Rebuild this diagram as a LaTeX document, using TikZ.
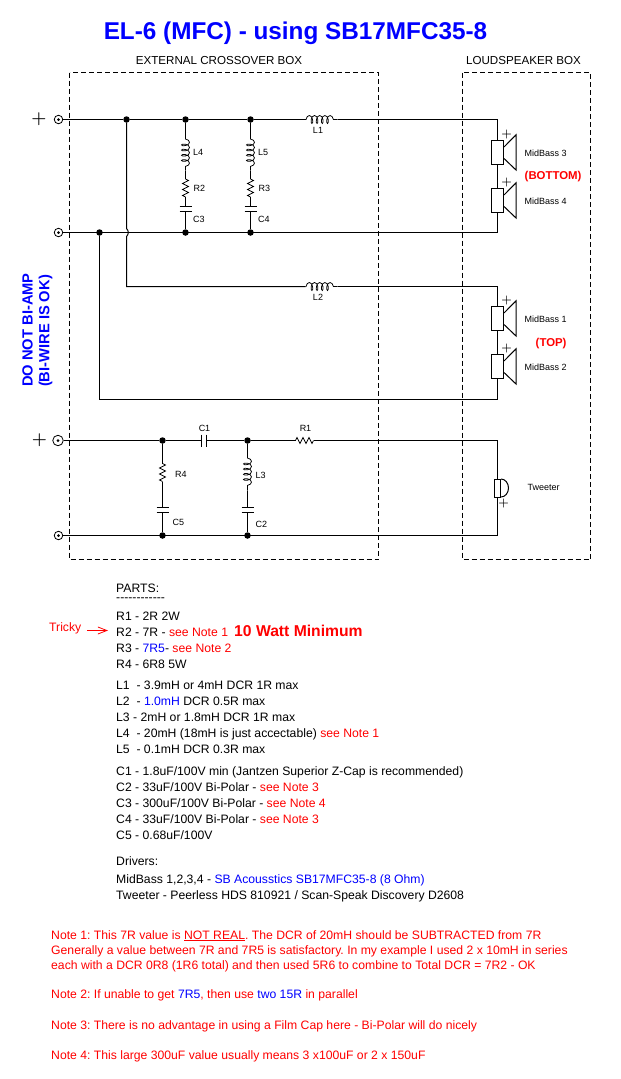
\documentclass[tikz,border=0pt]{standalone}
\usepackage{fontspec}
\setmainfont{Liberation Sans}
\usetikzlibrary{decorations.pathmorphing,arrows.meta}
\definecolor{pureblue}{RGB}{0,0,255}
\definecolor{purered}{RGB}{255,0,0}
\tikzset{
  wire/.style={line width=1pt},
  boxline/.style={line width=1pt,dash pattern=on 5pt off 3pt},
  junction/.style={circle,fill=black,inner sep=0pt,minimum size=6.5pt},
  terminal/.style={circle,draw,line width=0.8pt,inner sep=0pt,minimum size=8.5pt,
    path picture={\fill (path picture bounding box.center) circle (1.5pt);}},
  coilpart/.style={line width=0.75pt,decorate,decoration={coil,aspect=0.5,segment length=5.2pt,amplitude=4pt,pre length=0.5pt,post length=0.5pt}},
  respart/.style={line width=0.8pt,decorate,decoration={zigzag,segment length=6pt,amplitude=3pt}},
  plate/.style={line width=1pt},
  conebox/.style={draw,line width=1pt,minimum width=12pt,minimum height=24pt,inner sep=0pt},
  domebox/.style={draw,line width=1pt,minimum width=6pt,minimum height=18pt,inner sep=0pt},
  tag/.style={font=\fontsize{9}{11}\selectfont,inner sep=0pt},
  boxtag/.style={font=\fontsize{11.6}{14}\selectfont,inner sep=0pt},
  polarity/.style={font=\boldmath\fontsize{12}{12}\selectfont,inner sep=0pt},
  bigplus/.style={font=\boldmath\fontsize{17.28}{18}\selectfont,inner sep=0pt},
  redtag/.style={font=\bfseries\fontsize{11.4}{14}\selectfont,text=purered,inner sep=0pt},
  sideline/.style={font=\bfseries\fontsize{14.7}{16}\selectfont,text=pureblue,inner sep=0pt,rotate=90},
  partline/.style={anchor=base west,font=\fontsize{12.2}{14}\selectfont,inner sep=0pt},
  noteline/.style={anchor=base west,font=\fontsize{12.2}{14}\selectfont,text=purered,inner sep=0pt}
}
\newcommand{\rd}[1]{\textcolor{purered}{#1}}
\newcommand{\bl}[1]{\textcolor{pureblue}{#1}}
\frenchspacing
\begin{document}
\begin{tikzpicture}[x=1pt,y=-1pt]
  \useasboundingbox (0,0) rectangle (621,1079);
  \node[font=\bfseries\fontsize{24.3}{28}\selectfont,text=pureblue,inner sep=0pt] (title) at (295.5,33) {EL-6 (MFC) - using SB17MFC35-8};
  % boxes
  \draw[boxline] (69.5,72.5) rectangle (378.5,559.5);
  \draw[boxline] (462.5,72.5) rectangle (590.5,559.5);
  \node[boxtag] (extbox) at (219,61) {EXTERNAL CROSSOVER BOX};
  \node[boxtag] (spkbox) at (523.5,61) {LOUDSPEAKER BOX};
  \node[sideline] (bia) at (27.5,330) {DO NOT BI-AMP};
  \node[sideline] (biw) at (45.5,331) {(BI-WIRE IS OK)};
  \begin{scope}[shift={(0.5,0.5)}]
  % terminals
  \foreach \n/\y in {a/119,b/232,d/535}
    \node[terminal] (t\n) at (58,\y) {};
  \node[terminal,minimum size=10.5pt] (tc) at (57.5,440) {};
  \node[bigplus] (pa) at (38.5,119) {$+$};
  \node[bigplus] (pc) at (39,440) {$+$};
  % junctions
  \foreach \n/\x/\y in {ja/126/119,jb/185/119,jc/250/119,jd/99/232,je/185/232,jf/250/232,
                        jg/162/440,jh/247/440,ji/162/535,jj/247/535}
    \node[junction] (\n) at (\x,\y) {};
  % speakers
  \foreach \n/\y/\t in {s3/152/MidBass 3,s4/200/MidBass 4,s1/318/MidBass 1,s2/366/MidBass 2}{
    \node[conebox] (\n) at (497,\y) {};
    \draw[wire] (\n.east) ++(0,-5.5) -- ++(12,-12.2) -- ++(0,35.2) -- ++(-12,-11.5);
    \node[polarity] (p\n) at (506,\y-18) {$+$};
    \node[tag,anchor=west] (n\n) at (524,\y+1) {\t};
  }
  \node[redtag,anchor=west] (bottom) at (524,176.5) {(BOTTOM)};
  \node[redtag,anchor=west] (top) at (535,343.5) {(TOP)};
  % first midbass pair
  \coordinate (l1a) at (305,119);
  \coordinate (l1b) at (337,119);
  \coordinate (ca) at (497,119);
  \coordinate (cb) at (497,232);
  \draw[wire] (ta) -- (ja) -- (jb) -- (jc) -- (l1a);
  \draw[coilpart] (l1a) -- (l1b);
  \draw[wire] (l1b) -- (ca) -- (s3);
  \draw[wire] (s3) -- (s4) -- (cb) -- (tb);
  \node[tag] (l1) at (317.5,130) {L1};
  % L4 R2 C3 and L5 R3 C4
  \foreach \x/\top/\bot/\n/\lab/\rlab/\clab in {185/jb/je/a/L4/R2/C3,250/jc/jf/b/L5/R3/C4}{
    \coordinate (k\n a) at (\x,138);
    \coordinate (k\n b) at (\x,170);
    \coordinate (r\n a) at (\x,178.5);
    \coordinate (r\n b) at (\x,196.5);
    \coordinate (c\n a) at (\x,206);
    \coordinate (c\n b) at (\x,211);
    \draw[wire] (\top) -- (k\n a);
    \draw[coilpart] (k\n a) -- (k\n b);
    \draw[wire] (k\n b) -- (r\n a);
    \draw[respart] (r\n a) -- (r\n b);
    \draw[wire] (r\n b) -- (c\n a);
    \draw[plate] (\x-6,206) -- (\x+6,206);
    \draw[plate] (\x-6,211) -- (\x+6,211);
    \draw[wire] (c\n b) -- (\bot);
    \node[tag,anchor=west] (n\n l) at (\x+7.5,152) {\lab};
    \node[tag,anchor=west] (n\n r) at (\x+8,188) {\rlab};
    \node[tag,anchor=west] (n\n c) at (\x+7.5,218.5) {\clab};
  }
  % second midbass pair with the hop over the lower rail
  \coordinate (hopa) at (126,228);
  \coordinate (hopb) at (126,236);
  \coordinate (ce) at (126,286);
  \coordinate (l2a) at (305,286);
  \coordinate (l2b) at (337,286);
  \coordinate (cf) at (497,286);
  \coordinate (cg) at (497,399);
  \coordinate (ch) at (99,399);
  \draw[wire] (ja) -- (hopa) to[bend left=50] (hopb) -- (ce) -- (l2a);
  \draw[coilpart] (l2a) -- (l2b);
  \draw[wire] (l2b) -- (cf) -- (s1);
  \draw[wire] (s1) -- (s2) -- (cg) -- (ch) -- (jd);
  \node[tag] (l2) at (317.5,297) {L2};
  % tweeter branch
  \coordinate (c1a) at (201,440);
  \coordinate (c1b) at (206,440);
  \coordinate (r1a) at (295,440);
  \coordinate (r1b) at (313,440);
  \coordinate (ci) at (497,440);
  \coordinate (cj) at (497,535);
  \node[domebox] (tw) at (497,488) {};
  \draw[wire] (tw.north east) arc[start angle=90,end angle=-90,x radius=7.5pt,y radius=9pt];
  \draw[wire] (tc) -- (jg) -- (c1a);
  \draw[plate] (c1a) ++(0,-6) -- ++(0,12);
  \draw[plate] (c1b) ++(0,-6) -- ++(0,12);
  \draw[wire] (c1b) -- (jh) -- (r1a);
  \draw[respart] (r1a) -- (r1b);
  \draw[wire] (r1b) -- (ci) -- (tw) -- (cj) -- (td);
  \node[tag] (c1) at (204,427.5) {C1};
  \node[tag] (r1) at (305,427.5) {R1};
  \node[polarity] (ptw) at (503,503) {$+$};
  \node[tag,anchor=west] (ntw) at (527,486.5) {Tweeter};
  % R4 C5
  \coordinate (r4a) at (162,463);
  \coordinate (r4b) at (162,481);
  \coordinate (c5a) at (162,507);
  \coordinate (c5b) at (162,512);
  \draw[wire] (jg) -- (r4a);
  \draw[respart] (r4a) -- (r4b);
  \draw[wire] (r4b) -- (c5a);
  \draw[plate] (c5a) ++(-6,0) -- ++(12,0);
  \draw[plate] (c5b) ++(-6,0) -- ++(12,0);
  \draw[wire] (c5b) -- (ji);
  \node[tag,anchor=west] (r4) at (174.5,474) {R4};
  \node[tag,anchor=west] (c5) at (172,522) {C5};
  % L3 C2
  \coordinate (l3a) at (247,457);
  \coordinate (l3b) at (247,490);
  \coordinate (c2a) at (247,507);
  \coordinate (c2b) at (247,512);
  \draw[wire] (jh) -- (l3a);
  \draw[coilpart] (l3a) -- (l3b);
  \draw[wire] (l3b) -- (c2a);
  \draw[plate] (c2a) ++(-6,0) -- ++(12,0);
  \draw[plate] (c2b) ++(-6,0) -- ++(12,0);
  \draw[wire] (c2b) -- (jj);
  \node[tag,anchor=west] (l3) at (255,474.5) {L3};
  \node[tag,anchor=west] (c2) at (255,523.5) {C2};
  \end{scope}
  % parts list
  \node[anchor=north west,align=left,font=\fontsize{12.2}{9}\selectfont,inner sep=0pt] (parts) at (116,584)
    {PARTS:\\-{}-{}-{}-{}-{}-{}-{}-{}-{}-{}-{}-};
  \node[partline] (pr1) at (116,620) {R1 - 2R 2W};
  \node[partline] (pr2) at (116,636) {R2 - 7R - \rd{see Note 1}};
  \node[anchor=base west,font=\bfseries\fontsize{15.7}{18}\selectfont,text=purered,inner sep=0pt] (watt) at (234,636) {10 Watt Minimum};
  \node[partline] (pr3) at (116,652) {R3 - \bl{7R5}- \rd{see Note 2}};
  \node[partline] (pr4) at (116,668) {R4 - 6R8 5W};
  \node[partline] (pl1) at (116,689) {L1 \ - 3.9mH or 4mH DCR 1R max};
  \node[partline] (pl2) at (116,705) {L2 \ - \bl{1.0mH} DCR 0.5R max};
  \node[partline] (pl3) at (116,721) {L3 - 2mH or 1.8mH DCR 1R max};
  \node[partline] (pl4) at (116,737) {L4 \ - 20mH (18mH is just accectable) \rd{see Note 1}};
  \node[partline] (pl5) at (116,753) {L5 \ - 0.1mH DCR 0.3R max};
  \node[partline] (pc1) at (116,775) {C1 - 1.8uF/100V min (Jantzen Superior Z-Cap is recommended)};
  \node[partline] (pc2) at (116,791) {C2 - 33uF/100V Bi-Polar - \rd{see Note 3}};
  \node[partline] (pc3) at (116,807) {C3 - 300uF/100V Bi-Polar - \rd{see Note 4}};
  \node[partline] (pc4) at (116,823) {C4 - 33uF/100V Bi-Polar - \rd{see Note 3}};
  \node[partline] (pc5) at (116,839) {C5 - 0.68uF/100V};
  \node[partline] (drv) at (116,865) {Drivers:};
  \node[partline] (drva) at (116,883) {MidBass 1,2,3,4 - \bl{SB Acousstics SB17MFC35-8 (8 Ohm)}};
  \node[partline] (drvb) at (116,899) {Tweeter - Peerless HDS 810921 / Scan-Speak Discovery D2608};
  % tricky arrow
  \node[anchor=base west,font=\fontsize{12.2}{14}\selectfont,text=purered,inner sep=0pt] (tricky) at (49,631) {Tricky};
  \coordinate (trickya) at (87,630.5);
  \coordinate (trickyb) at (108,630.5);
  \draw[purered,line width=0.8pt,-{Straight Barb[length=9pt,width=7pt]}] (trickya) -- (trickyb);
  % notes
  \node[noteline] (n1a) at (51,939) {Note 1: This 7R value is \underline{NOT REAL}. The DCR of 20mH should be SUBTRACTED from 7R};
  \node[noteline] (n1b) at (51,954) {Generally a value between 7R and 7R5 is satisfactory. In my example I used 2 x 10mH in series};
  \node[noteline] (n1c) at (51,969) {each with a DCR 0R8 (1R6 total) and then used 5R6 to combine to Total DCR = 7R2 - OK};
  \node[noteline] (n2) at (51,998) {Note 2: If unable to get \bl{7R5}, then use \bl{two 15R} in parallel};
  \node[noteline] (n3) at (51,1029) {Note 3: There is no advantage in using a Film Cap here - Bi-Polar will do nicely};
  \node[noteline] (n4) at (51,1059) {Note 4: This large 300uF value usually means 3 x100uF or 2 x 150uF};
\end{tikzpicture}
\end{document}
